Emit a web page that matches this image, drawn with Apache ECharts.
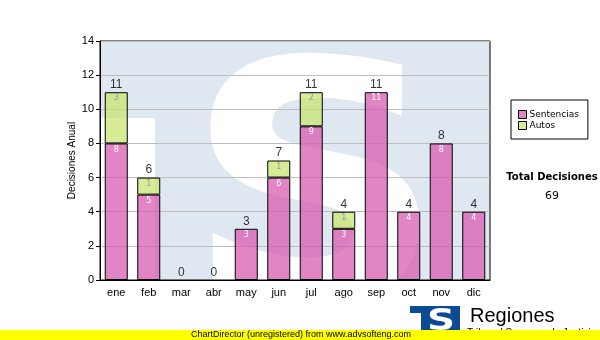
<!DOCTYPE html>
<html>
<head>
<meta charset="utf-8">
<script src="https://cdn.jsdelivr.net/npm/echarts@6/dist/echarts.min.js"></script>
<style>html,body{margin:0;padding:0;background:#fff}#c{width:600px;height:340px}</style>
</head>
<body>
<div id="c"></div>
<script>
const months = ['ene','feb','mar','abr','may','jun','jul','ago','sep','oct','nov','dic'];
const sentencias = [8,5,0,0,3,6,9,3,11,4,8,4];
const autos = [3,1,0,0,0,1,2,1,0,0,0,0];
const totalDecisiones = 69;
const yMin = 0, yMax = 14, yInterval = 2;

const totals = sentencias.map((v, i) => v + autos[i]);
const FONT = 'Liberation Sans';

const chart = echarts.init(document.getElementById('c'), null, {renderer: 'canvas'});
chart.setOption({
  animation: false,
  backgroundColor: '#fff',
  grid: {left: 100, top: 41, width: 390, height: 239, show: true, borderColor: '#000', borderWidth: 1, backgroundColor: 'transparent'},
  legend: {
    data: ['Sentencias', 'Autos'],
    orient: 'vertical', left: 511, top: 100,
    padding: [10, 9, 9, 7], itemGap: 2,
    itemWidth: 8, itemHeight: 8, icon: 'rect',
    borderColor: '#000', borderWidth: 1,
    itemStyle: {borderColor: '#000', borderWidth: 1},
    textStyle: {fontFamily: 'DejaVu Sans', fontSize: 9, color: '#000', padding: [0,0,0,-2]}
  },
  xAxis: {
    type: 'category', data: months,
    axisLine: {lineStyle: {color: '#000', width: 1}},
    axisTick: {alignWithLabel: true, length: 4, lineStyle: {color: '#000'}},
    axisLabel: {fontFamily: FONT, fontSize: 11, color: '#000', margin: 7},
    splitLine: {show: false}
  },
  yAxis: {
    type: 'value', min: yMin, max: yMax, interval: yInterval,
    name: 'Decisiones Anual', nameLocation: 'middle', nameGap: 23, nameMoveOverlap: false,
    nameTextStyle: {fontFamily: FONT, fontSize: 10, color: '#000'},
    axisLine: {show: true, lineStyle: {color: '#000', width: 1}},
    axisTick: {show: true, length: 4, lineStyle: {color: '#000'}},
    axisLabel: {fontFamily: FONT, fontSize: 11, color: '#000', margin: 6},
    splitLine: {show: true, lineStyle: {color: '#bdbdbd', width: 1}}
  },
  graphic: [
    {type: 'rect', silent: true, z: -10, shape: {x: 101, y: 41, width: 389, height: 239}, style: {fill: '#dfe8f1'}},
    {type: 'rect', silent: true, z: -9, shape: {x: 101, y: 118, width: 54, height: 162}, style: {fill: '#fff'}},
    {type: 'text', silent: true, z: -9, x: 315, y: 212, scaleX: 1.1,
      style: {text: 'S', font: 'bold 330px "DejaVu Sans"', fill: '#fff', textAlign: 'center', textVerticalAlign: 'middle', align: 'center', verticalAlign: 'middle'}},
    {type: 'rect', silent: true, z: -8, shape: {x: 0, y: 281, width: 600, height: 60}, style: {fill: '#fff'}},
    {type: 'rect', silent: true, z: -8, shape: {x: 0, y: 0, width: 600, height: 40}, style: {fill: '#fff'}},
    {type: 'text', silent: true, x: 552, y: 177,
      style: {text: 'Total Decisiones', font: 'bold 10px "DejaVu Sans"', fill: '#000', textAlign: 'center', textVerticalAlign: 'middle', align: 'center', verticalAlign: 'middle'}},
    {type: 'text', silent: true, x: 552, y: 196,
      style: {text: String(totalDecisiones), font: '11px "DejaVu Sans"', fill: '#000', textAlign: 'center', textVerticalAlign: 'middle', align: 'center', verticalAlign: 'middle'}},
    {type: 'rect', silent: true, z: 5, shape: {x: 410, y: 306, width: 50, height: 24}, style: {fill: '#0c4a93'}},
    {type: 'rect', silent: true, z: 6, shape: {x: 410, y: 313, width: 11, height: 17}, style: {fill: '#fff'}},
    {type: 'text', silent: true, z: 6, x: 441, y: 322, scaleX: 1.3,
      style: {text: 'S', font: 'bold 30px "DejaVu Sans"', fill: '#fff', textAlign: 'center', textVerticalAlign: 'middle', align: 'center', verticalAlign: 'middle'}},
    {type: 'text', silent: true, z: 5, x: 470, y: 316,
      style: {text: 'Regiones', font: '20px "Liberation Sans"', fill: '#000', textAlign: 'left', textVerticalAlign: 'middle', align: 'left', verticalAlign: 'middle'}},
    {type: 'text', silent: true, z: 5, x: 467, y: 333,
      style: {text: 'Tribunal Supremo de Justicia', font: '10px "Liberation Sans"', fill: '#000', textAlign: 'left', textVerticalAlign: 'middle', align: 'left', verticalAlign: 'middle'}},
    {type: 'rect', silent: true, z: 20, shape: {x: 0, y: 330, width: 600, height: 10}, style: {fill: '#ffff00'}},
    {type: 'text', silent: true, z: 21, x: 191, y: 335,
      style: {text: 'ChartDirector (unregistered) from www.advsofteng.com', font: '9px "Liberation Sans"', fill: '#000', textAlign: 'left', textVerticalAlign: 'middle', align: 'left', verticalAlign: 'middle'}}
  ],
  series: [
    {
      name: 'Sentencias', type: 'bar', stack: 'total', barWidth: 23,
      data: sentencias.map(v => v === 0 ? '-' : v),
      itemStyle: {color: 'rgba(216,90,176,0.74)', borderColor: '#000', borderWidth: 1},
      label: {show: true, position: 'insideTop', distance: 2, fontFamily: 'DejaVu Sans', fontSize: 8, color: '#fff'}
    },
    {
      name: 'Autos', type: 'bar', stack: 'total', barWidth: 23,
      data: autos.map(v => v === 0 ? '-' : v),
      itemStyle: {color: 'rgba(200,228,110,0.72)', borderColor: '#000', borderWidth: 1},
      label: {show: true, position: 'insideTop', distance: 2, fontFamily: 'DejaVu Sans', fontSize: 8, color: '#999'}
    },
    {
      name: 'Total', type: 'scatter', data: totals, symbolSize: 1,
      itemStyle: {color: 'rgba(0,0,0,0)'}, z: 5,
      label: {show: true, position: 'top', distance: 1, fontFamily: FONT, fontSize: 12, color: '#000'}
    }
  ]
});
</script>
</body>
</html>
